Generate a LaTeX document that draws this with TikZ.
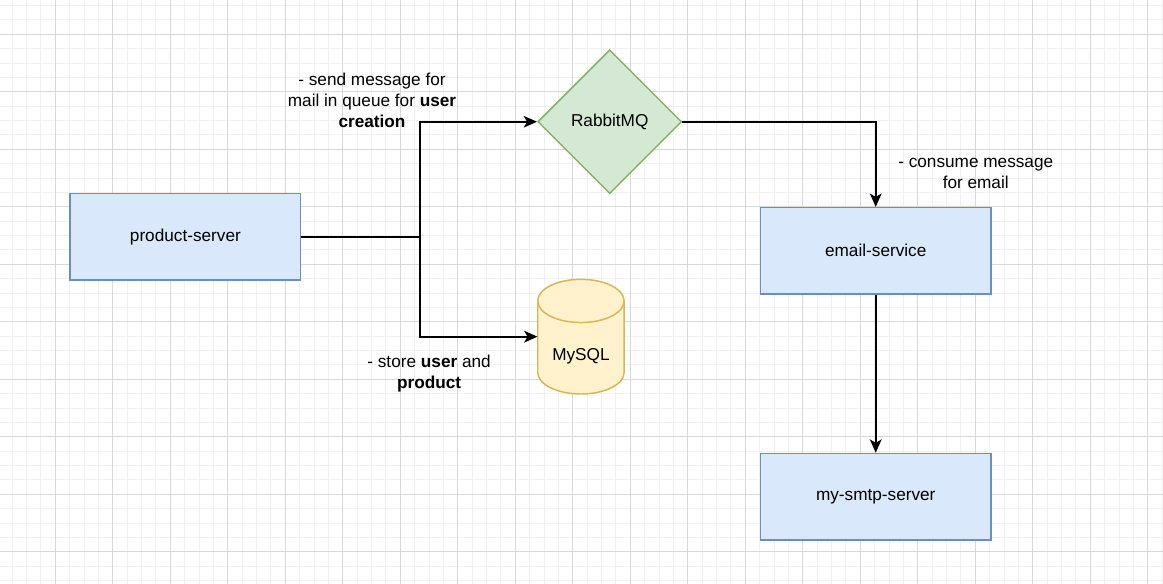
\documentclass[tikz,border=0pt]{standalone}
\usepackage{fontspec}
\setmainfont{Liberation Sans}
\usetikzlibrary{arrows.meta,positioning,shapes.geometric}
\definecolor{srvfill}{HTML}{DAE8FC}
\definecolor{srvline}{HTML}{6C8EBF}
\definecolor{mqfill}{HTML}{D5E8D4}
\definecolor{mqline}{HTML}{82B366}
\definecolor{dbfill}{HTML}{FFF2CC}
\definecolor{dbline}{HTML}{D6B656}
\definecolor{gridmajor}{HTML}{D8D8D8}
\definecolor{gridminor}{HTML}{F0F0F0}
\tikzstyle{service}=[draw=srvline, fill=srvfill, line width=1.1pt, minimum width=172.8pt, minimum height=64.8pt, align=center]
\tikzstyle{broker}=[diamond, draw=mqline, fill=mqfill, line width=1.1pt, minimum width=108pt, minimum height=108pt, inner sep=0pt]
\tikzstyle{dbbody}=[minimum width=64.8pt, minimum height=86.4pt, inner sep=0pt]
\tikzstyle{note}=[align=center]
\tikzstyle{link}=[->, line width=1.4pt]

\begin{document}
\begin{tikzpicture}[>={Stealth[length=10pt,width=8.8pt,inset=2.6pt]},font=\fontsize{12.9}{15.8}\selectfont]
    \useasboundingbox (0,0) rectangle (872.25pt,-437.25pt);
    \fill[white] (0,0) rectangle (872.25pt,-437.25pt);
    \begin{scope}
        \clip (0,0) rectangle (872.25pt,-437.25pt);
        \begin{scope}[shift={(41.5pt,-25.7pt)}]
            \draw[gridminor, line width=0.75pt, step=10.78125pt] (-50pt,-420pt) grid (840pt,30pt);
            \draw[gridmajor, line width=0.75pt, step=43.125pt] (-50pt,-420pt) grid (840pt,30pt);
        \end{scope}
    \end{scope}

    \node [service] (product) at (139.05pt,-177.5pt) {product-server};
    \node [broker] (rabbit) at (457.3pt,-91.3pt) {RabbitMQ};
    \node [dbbody] (mysql) at (435.7pt,-252.5pt) {};
    \node [service] (email) at (656.8pt,-188.1pt) {email-service};
    \node [service] (smtp) [below=118.5pt of email] {my-smtp-server};
    \coordinate [right=88.7pt of product.east] (split);

    % cylinder for the database
    \begin{scope}[shift={(mysql.center)}]
        \filldraw[draw=dbline, fill=dbfill, line width=1.1pt] (-32.4pt,26.8pt) arc (180:0:32.4pt and 16.2pt) -- (32.4pt,-26.8pt) arc (0:-180:32.4pt and 16.2pt) -- cycle;
        \draw[dbline, line width=1.1pt] (-32.4pt,26.8pt) arc (180:360:32.4pt and 16.2pt);
    \end{scope}
    \node (mysqllabel) at ([yshift=-14.5pt]mysql.center) {MySQL};

    \node [note] (sendnote) at (279pt,-75.5pt) {- send message for\\mail in queue for \textbf{user}\\\textbf{creation}};
    \node [note] (storenote) at (321.8pt,-280.3pt) {- store \textbf{user} and\\\textbf{product}};
    \node [note] (consumenote) at (731.8pt,-129.75pt) {- consume message\\for email};

    \draw [line width=1.4pt] (product.east) -- (split);
    \draw [link] (split) |- (rabbit.west);
    \draw [link] (split) |- (mysql.west);
    \draw [link] (rabbit.east) -| (email.north);
    \draw [link] (email) -- (smtp);
\end{tikzpicture}
\end{document}
